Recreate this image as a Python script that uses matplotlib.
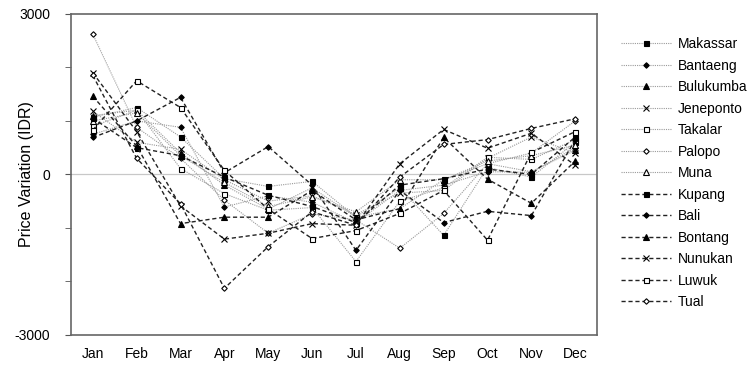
import matplotlib
matplotlib.use("Agg")
import matplotlib.pyplot as plt
from matplotlib.ticker import MultipleLocator

plt.rcParams['font.family'] = ['Liberation Sans', 'DejaVu Sans']
plt.rcParams['axes.unicode_minus'] = False

months = ["Jan", "Feb", "Mar", "Apr", "May", "Jun", "Jul", "Aug", "Sep", "Oct", "Nov", "Dec"]

makassar = [1070, 1250, 700, -80, -225, -130, -800, -250, -1140, 130, -50, 600]
bantaeng = [750, 1000, 880, -610, -400, -520, -900, -300, -200, 50, 40, 500]
bulukumba = [1100, 1200, 400, -200, -650, -250, -800, -640, -100, 200, 50, 450]
jeneponto = [1180, 600, 470, -100, -500, -400, -750, -350, -300, 300, 700, 400]
takalar = [900, 1200, 110, -360, -670, -620, -1630, -500, -250, 320, 280, 650]
palopo = [2620, 880, 300, -480, -1100, -740, -850, -1380, -730, 200, 400, 1000]
muna = [1000, 1150, 350, -150, -600, -420, -700, -100, -100, 250, 350, 550]
kupang = [1050, 500, 350, -50, -390, -600, -900, -200, -80, 100, 0, 700]
bali = [690, 1000, 1440, 30, 520, -200, -1420, -300, -900, -690, -770, 650]
bontang = [1460, 530, -920, -800, -800, -300, -850, -640, 690, -90, -540, 250]
nunukan = [1900, 800, -590, -1210, -1100, -920, -950, 200, 840, 490, 770, 170]
luwuk = [830, 1750, 1250, 75, -650, -1200, -1050, -730, -300, -1230, 410, 800]
tual = [1850, 300, -550, -2130, -1350, -700, -950, -50, 560, 650, 860, 1040]

names = ["Makassar", "Bantaeng", "Bulukumba", "Jeneponto", "Takalar", "Palopo", "Muna",
         "Kupang", "Bali", "Bontang", "Nunukan", "Luwuk", "Tual"]
series = [makassar, bantaeng, bulukumba, jeneponto, takalar, palopo, muna,
          kupang, bali, bontang, nunukan, luwuk, tual]

markers = ['s', 'D', '^', 'x', 's', 'D', '^', 's', 'D', '^', 'x', 's', 'D']
filled = [True, True, True, True, False, False, False, True, True, True, True, False, False]
msizes = [3.6, 2.8, 3.8, 3.8, 3.6, 2.8, 3.8, 3.6, 2.8, 3.8, 3.8, 3.6, 2.8]

fig = plt.figure(figsize=(7.54, 3.66), dpi=100)
ax = fig.add_axes([0.094, 0.085, 0.698, 0.877])

x = list(range(len(months)))
ax.axhline(0, color='#c8c8c8', lw=0.9, zorder=0)

for i, (nm, vals) in enumerate(zip(names, series)):
    grey = i < 7
    kw = dict(marker=markers[i], markersize=msizes[i],
              markerfacecolor=('black' if filled[i] else 'white'),
              markeredgecolor='black', markeredgewidth=0.8, label=nm)
    if grey:
        ax.plot(x, vals, color='#9a9a9a', lw=0.8, linestyle=(0, (1, 1)), **kw)
    else:
        ax.plot(x, vals, color='#222222', lw=1.0, linestyle=(0, (3, 2)), **kw)

ax.set_xlim(-0.5, 11.5)
ax.set_ylim(-3000, 3000)
ax.set_xticks(x)
ax.set_xticklabels(months, fontsize=10)
ax.set_yticks([-3000, 0, 3000])
ax.yaxis.set_minor_locator(MultipleLocator(1000))
ax.tick_params(axis='x', length=0, pad=9)
ax.tick_params(axis='y', which='both', length=4, direction='out', labelsize=10,
               color='#555555', pad=11)
ax.set_ylabel("Price Variation (IDR)", fontsize=11.5)
ax.yaxis.set_label_coords(-0.07, 0.5)
for s in ax.spines.values():
    s.set_color('#666666')
    s.set_linewidth(1.2)

leg = ax.legend(loc='upper left', bbox_to_anchor=(1.035, 0.945), frameon=False,
                fontsize=10, handlelength=3.6, labelspacing=0.54, handletextpad=0.5,
                borderaxespad=0)

fig.savefig("out.png", dpi=100)
